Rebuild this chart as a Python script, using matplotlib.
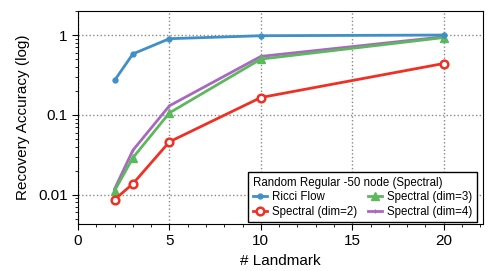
import numpy as np
import matplotlib
matplotlib.use('Agg')
import matplotlib.pyplot as plt
from matplotlib.ticker import MultipleLocator, LogLocator, NullFormatter

plt.rcParams['font.family'] = ['Liberation Sans', 'DejaVu Sans']
plt.rcParams['font.size'] = 10

landmarks = [2, 3, 5, 10, 20]
ricci_flow = [0.27, 0.58, 0.90, 0.98, 1.0]
spectral_dim2 = [0.0087, 0.0137, 0.046, 0.165, 0.44]
spectral_dim3 = [0.0112, 0.029, 0.106, 0.50, 0.93]
spectral_dim4 = [0.0118, 0.036, 0.13, 0.54, 0.95]

fig = plt.figure(figsize=(4.98, 2.71), dpi=100)
ax = fig.add_axes([78 / 498, 1 - 224 / 271, (483 - 78) / 498, (224 - 11) / 271])

ax.plot(landmarks, ricci_flow, color='#3f8fc8', lw=2, marker='o', ms=3.5,
        label='Ricci Flow', zorder=5)
ax.plot(landmarks, spectral_dim2, color='#ee3124', lw=2, marker='o', ms=5.5,
        mfc='white', mec='#ee3124', mew=1.8, label='Spectral (dim=2)', zorder=4)
ax.plot(landmarks, spectral_dim3, color='#5cb85c', lw=2, marker='^', ms=6,
        label='Spectral (dim=3)', zorder=3)
ax.plot(landmarks, spectral_dim4, color='#a868c0', lw=2, marker='|', ms=3,
        label='Spectral (dim=4)', zorder=2)

ax.set_yscale('log')
ax.set_xlim(0, 22.15)
ax.set_ylim(0.0043, 2.0)
ax.xaxis.set_major_locator(MultipleLocator(5))
ax.xaxis.set_minor_locator(MultipleLocator(1))
ax.yaxis.set_minor_locator(LogLocator(base=10, subs=np.arange(2, 10), numticks=10))
ax.yaxis.set_minor_formatter(NullFormatter())
ax.set_yticks([0.01, 0.1, 1])
ax.set_yticklabels(['0.01', '0.1', '1'])

ax.grid(True, which='major', ls=':', color='#888888', lw=1)
ax.tick_params(which='major', length=4, direction='out', labelsize=11)
ax.tick_params(which='minor', length=2.5, direction='out')

ax.set_xlabel('# Landmark', fontsize=11)
ax.set_ylabel('Recovery Accuracy (log)', fontsize=11, labelpad=6)

leg = ax.legend(title='Random Regular -50 node (Spectral)', ncol=2, loc='lower right',
                bbox_to_anchor=(0.986, 0.008), borderaxespad=0,
                fontsize=8.3, title_fontsize=8.3, fancybox=False, edgecolor='black',
                framealpha=1, columnspacing=0.9, handlelength=1.25,
                handletextpad=0.45, labelspacing=0.2, borderpad=0.4)
leg.get_frame().set_linewidth(1)
leg._legend_box.align = 'left'

fig.savefig('out.png', dpi=100)
